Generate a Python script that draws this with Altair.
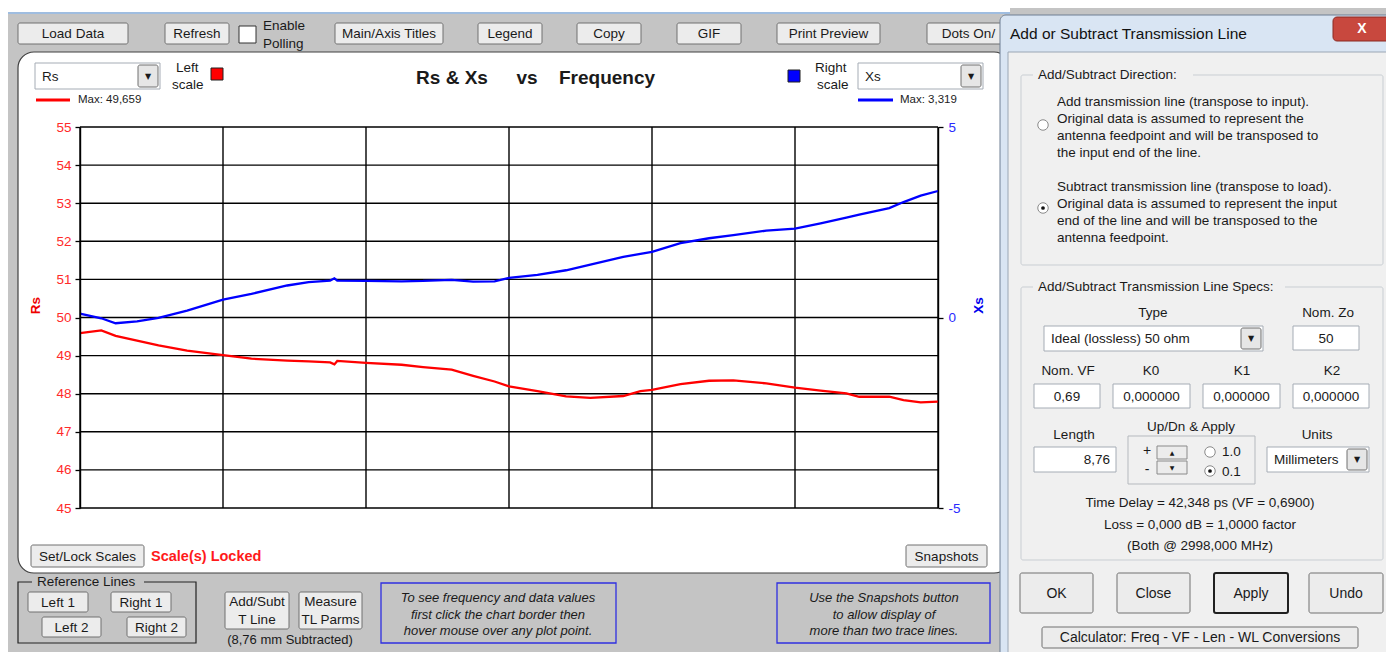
import altair as alt
import pandas as pd

# ---------------- data ----------------
freq_mhz = [1, 150, 250, 400, 550, 750, 1001, 1200, 1450, 1600, 1750, 1780, 1800,
            2001, 2250, 2400, 2600, 2750, 2900, 3001, 3200, 3400, 3570, 3800, 3920,
            4001, 4200, 4400, 4570, 4800, 5001, 5180, 5360, 5450, 5660, 5760, 5880, 6001]
rs_ohm = [49.59, 49.66, 49.52, 49.39, 49.27, 49.13, 49.01, 48.92, 48.87, 48.85, 48.82, 48.77, 48.86,
          48.81, 48.76, 48.70, 48.63, 48.47, 48.32, 48.19, 48.07, 47.93, 47.89, 47.94, 48.07,
          48.10, 48.25, 48.34, 48.35, 48.27, 48.16, 48.08, 48.01, 47.92, 47.92, 47.83, 47.77, 47.79]
xs_ohm = [0.10, -0.02, -0.15, -0.10, -0.01, 0.18, 0.47, 0.62, 0.84, 0.93, 0.97, 1.03, 0.97,
          0.96, 0.95, 0.96, 0.99, 0.94, 0.95, 1.04, 1.12, 1.24, 1.39, 1.59, 1.67,
          1.72, 1.95, 2.08, 2.16, 2.28, 2.33, 2.47, 2.62, 2.70, 2.87, 3.03, 3.20, 3.32]

freq_label_ticks = [1, 1001, 2001, 3001, 4001, 5001]
freq_grid = [1, 1001, 2001, 3001, 4001, 5001, 6001]
rs_ticks = [45, 46, 47, 48, 49, 50, 51, 52, 53, 54, 55]
xs_ticks = [-5, 0, 5]

df = pd.DataFrame({"freq": freq_mhz, "rs": rs_ohm, "xs": xs_ohm})
vgrid = pd.DataFrame({"f": freq_grid})
hgrid = pd.DataFrame({"r": rs_ticks})

# ---------------- layout constants ----------------
X0, Y0 = 80, 127          # page position of the plot origin
PW, PH = 858, 381         # plot area
UI = "Liberation Sans"
ONE = alt.Data(values=[{"k": 0}])
GREY = "#c4c4c4"

xscale = alt.Scale(domain=[1, 6001], nice=False, zero=False)
rs_scale = alt.Scale(domain=[45, 55], nice=False, zero=False)
xs_scale = alt.Scale(domain=[-5, 5], nice=False, zero=False)


def rect(x1, y1, x2, y2, fill, stroke=None, sw=1.0, r=0, fo=1.0):
    kw = dict(fill=fill, cornerRadius=r, fillOpacity=fo)
    if stroke:
        kw.update(stroke=stroke, strokeWidth=sw)
    else:
        kw.update(strokeWidth=0)
    return alt.Chart(ONE).mark_rect(**kw).encode(
        x=alt.value(x1 - X0), x2=alt.value(x2 - X0),
        y=alt.value(y1 - Y0), y2=alt.value(y2 - Y0))


def text(s, x, y, size=13, color="#1a1a1a", weight="normal", align="left",
         style="normal", font=UI):
    return alt.Chart(ONE).mark_text(
        text=s, fontSize=size, color=color, fontWeight=weight, align=align,
        baseline="middle", font=font, fontStyle=style).encode(
        x=alt.value(x - X0), y=alt.value(y - Y0))


def button(x1, y1, x2, y2, lines, size=13.5, stroke="#707070", sw=1.0):
    out = [rect(x1, y1, x2, y2, "#ececec", stroke, sw, 2)]
    cx = (x1 + x2) / 2
    n = len(lines)
    h = (y2 - y1) / n
    for i, s in enumerate(lines):
        out.append(text(s, cx, y1 + h * (i + 0.5) + 0.5, size, align="center"))
    return out


def field(x1, y1, x2, y2, s, align="center", size=13.5):
    out = [rect(x1, y1, x2, y2, "white", "#a5acb5", 1)]
    if align == "center":
        out.append(text(s, (x1 + x2) / 2, (y1 + y2) / 2 + 0.5, size, align="center"))
    elif align == "right":
        out.append(text(s, x2 - 6, (y1 + y2) / 2 + 0.5, size, align="right"))
    else:
        out.append(text(s, x1 + 4, (y1 + y2) / 2 + 0.5, size))
    return out


def combo(x1, y1, x2, y2, s, size=13.5):
    return [rect(x1, y1, x2, y2, "white", "#a5acb5", 1),
            text(s, x1 + 7, (y1 + y2) / 2 + 0.5, size),
            rect(x2 - 22, y1 + 2, x2 - 2, y2 - 2, "#e6e6e6", "#707070", 1, 2),
            text("▼", x2 - 12, (y1 + y2) / 2 + 0.5, 8, align="center", font="DejaVu Sans")]


def dot(x, y, size, fill, stroke=None):
    kw = dict(shape="circle", filled=True, color=fill, opacity=1)
    if stroke:
        kw.update(stroke=stroke, strokeWidth=1)
    return alt.Chart(ONE).mark_point(**kw).encode(
        x=alt.value(x - X0), y=alt.value(y - Y0), size=alt.value(size))


def groupbox(x1, y1, x2, y2, label, lw, bg, stroke="#c9ced3", size=13.5):
    return [rect(x1, y1, x2, y2, "white", stroke, 1, 2, fo=0.0),
            rect(x1 + 12, y1 - 8, x1 + 12 + lw, y1 + 8, bg),
            text(label, x1 + 17, y1, size)]


layers = []

# ---- application background pieces ----
layers.append(rect(0, 0, 1010, 12, "white"))
layers.append(rect(0, 12, 1010, 14, "#9fbde0"))

# ---- white chart panel ----
layers.append(rect(18, 52, 1010, 573, "white", "#404040", 1.2, 16))

# ---- grid (through the chart's scales) ----
grid_v = alt.Chart(vgrid).mark_rule(color="#000000", strokeWidth=1.4).encode(
    x=alt.X("f:Q", scale=xscale, axis=None))
grid_h = alt.Chart(hgrid).mark_rule(color="#000000", strokeWidth=1.4).encode(
    y=alt.Y("r:Q", scale=rs_scale, axis=None))

x_axis = alt.Axis(values=freq_label_ticks, title="Frequency (MHz)", grid=False,
                  labelFont=UI, labelFontSize=13, labelColor="#111", labelFlush=False,
                  labelOverlap=False, labelPadding=3, tickSize=5, tickColor="black",
                  tickWidth=1.3, domainColor="black", domainWidth=1.4,
                  titleFont=UI, titleFontSize=14,
                  titleFontWeight="bold", titleColor="#111", titleX=422, titleY=42,
                  titleBaseline="middle", titleAlign="center", zindex=1, format="d")

rs_line = alt.Chart(df).mark_line(color="#ff0000", strokeWidth=2.3).encode(
    x=alt.X("freq:Q", scale=xscale, axis=x_axis),
    y=alt.Y("rs:Q", scale=rs_scale, axis=alt.Axis(
        orient="left", values=rs_ticks, title="Rs", grid=False, labelFont=UI,
        labelFontSize=13.5, labelColor="#ff2a2a", labelPadding=4, tickSize=5,
        tickColor="black", tickWidth=1.3, domainColor="black", domainWidth=1.4,
        titleFont=UI, titleFontSize=13.5,
        titleFontWeight="bold", titleColor="#ee0000", titleX=-45, titleY=178,
        titleAngle=270, titleBaseline="middle", titleAlign="center", zindex=1,
        labelFlush=False)))

xs_line = alt.Chart(df).mark_line(color="#0000ff", strokeWidth=2.3).encode(
    x=alt.X("freq:Q", scale=xscale, axis=x_axis),
    y=alt.Y("xs:Q", scale=xs_scale, axis=alt.Axis(
        orient="right", values=xs_ticks, title="Xs", grid=False, labelFont=UI,
        labelFontSize=13.5, labelColor="#2a2aff", labelPadding=5, tickSize=5,
        tickColor="black", tickWidth=1.3, domainColor="black", domainWidth=1.4,
        titleFont=UI, titleFontSize=13.5,
        labelExpr="replace(datum.label, '\u2212', '-')",
        titleFontWeight="bold", titleColor="#0000ee", titleX=40, titleY=178,
        titleAngle=270, titleBaseline="middle", titleAlign="center", zindex=1,
        labelFlush=False)))

layers += [grid_v, grid_h, rs_line, xs_line]

# ---- chart header ----
layers += combo(35, 63, 160, 89, "Rs")
layers += [text("Left", 176, 68, 13.5), text("scale", 172, 85, 13.5),
           rect(211, 68, 223, 80, "#ff0000", "#202020", 1),
           rect(36, 98.5, 70, 101.5, "#ff0000"),
           text("Max: 49,659", 78, 100, 11.5, color="#222")]
layers += [text("Rs & Xs", 452, 78, 19, weight="bold", align="center"),
           text("vs", 527, 78, 19, weight="bold", align="center"),
           text("Frequency", 607, 78, 19, weight="bold", align="center")]
layers += [rect(788, 70, 800, 82, "#0000ff", "#202020", 1),
           text("Right", 815, 68, 13.5), text("scale", 817, 85, 13.5)]
layers += combo(858, 63, 983, 89, "Xs")
layers += [rect(858, 98.5, 893, 101.5, "#0000ff"),
           text("Max: 3,319", 900, 100, 11.5, color="#222")]

# ---- panel bottom ----
layers += button(31, 545, 144, 567, ["Set/Lock Scales"])
layers.append(text("Scale(s) Locked", 151, 557, 14.5, color="#ff1a1a", weight="bold"))
layers += button(906, 545, 987, 567, ["Snapshots"])

# ---- toolbar ----
for x1, x2, lab in [(18, 128, "Load Data"), (165, 229, "Refresh"),
                    (335, 443, "Main/Axis Titles"), (478, 542, "Legend"),
                    (577, 641, "Copy"), (677, 741, "GIF"),
                    (777, 880, "Print Preview"), (927, 1010, "Dots On/")]:
    layers += button(x1, 23, x2, 44, [lab])
layers += [rect(239, 26, 256, 43, "white", "#333", 1),
           text("Enable", 263, 26, 13.5), text("Polling", 263, 44, 13.5)]

# ---- bottom controls ----
layers += [rect(18, 582, 196, 643, "white", "#222", 1.2, 0, fo=0.0),
           rect(32, 575, 144, 589, GREY),
           text("Reference Lines", 37, 582, 13.5)]
layers += button(28, 592, 88, 612, ["Left 1"])
layers += button(111, 592, 171, 612, ["Right 1"])
layers += button(42, 617, 101, 637, ["Left 2"])
layers += button(127, 617, 186, 637, ["Right 2"])
layers += button(225, 592, 289, 629, ["Add/Subt", "T Line"])
layers += button(299, 592, 362, 629, ["Measure", "TL Parms"])
layers.append(text("(8,76 mm Subtracted)", 290, 640, 13, align="center"))
layers.append(rect(381, 583, 616, 643, "white", "#2f2fe0", 1.3, 0, fo=0.0))
for i, s in enumerate(["To see frequency and data values", "first click the chart border then",
                       "hover mouse over any plot point."]):
    layers.append(text(s, 498, 598 + i * 16.5, 13, style="italic", align="center"))
layers.append(rect(777, 583, 990, 643, "white", "#2f2fe0", 1.3, 0, fo=0.0))
for i, s in enumerate(["Use the Snapshots button", "to allow display of",
                       "more than two trace lines."]):
    layers.append(text(s, 884, 598 + i * 16.5, 13, style="italic", align="center"))

# ---- dialog ----
DLG = "#f0f0f0"
layers.append(rect(1000, 15, 1410, 700, "#d9e5f3", "#6f7f93", 1, 6))
layers.append(text("Add or Subtract Transmission Line", 1010, 34, 15.5, color="#111"))
layers.append(rect(1333, 17, 1392, 41, "#c8483e", "#8a2a22", 1, 4))
layers.append(text("X", 1362, 29, 14, color="white", weight="bold", align="center"))
layers.append(rect(1008, 52, 1388, 660, DLG, "#9aa6b4", 1))

layers += groupbox(1021, 75, 1383, 265, "Add/Subtract Direction:", 160, DLG)
for i, s in enumerate(["Add transmission line (transpose to input).",
                       "Original data is assumed to represent the",
                       "antenna feedpoint and will be transposed to",
                       "the input end of the line."]):
    layers.append(text(s, 1057, 102 + i * 17, 13.5))
for i, s in enumerate(["Subtract transmission line (transpose to load).",
                       "Original data is assumed to represent the input",
                       "end of the line and will be transposed to the",
                       "antenna feedpoint."]):
    layers.append(text(s, 1057, 187 + i * 17, 13.5))
layers += [dot(1043, 125, 110, "white", "#8a8a8a"), dot(1043, 208, 110, "white", "#8a8a8a"),
           dot(1043, 208, 14, "#111")]

layers += groupbox(1021, 287, 1383, 560, "Add/Subtract Transmission Line Specs:", 252, DLG)
layers += [text("Type", 1153, 313, 13.5, align="center"),
           text("Nom. Zo", 1328, 313, 13.5, align="center")]
layers += combo(1044, 326, 1263, 351, "Ideal (lossless) 50 ohm")
layers += field(1293, 326, 1359, 350, "50")
layers += [text("Nom. VF", 1068, 371, 13.5, align="center"),
           text("K0", 1151, 371, 13.5, align="center"),
           text("K1", 1242, 371, 13.5, align="center"),
           text("K2", 1332, 371, 13.5, align="center")]
layers += field(1034, 384, 1100, 408, "0,69")
layers += field(1113, 384, 1190, 408, "0,000000")
layers += field(1203, 384, 1280, 408, "0,000000")
layers += field(1293, 384, 1369, 408, "0,000000")
layers += [text("Length", 1074, 435, 13.5, align="center"),
           text("Up/Dn & Apply", 1191, 427, 13.5, align="center"),
           text("Units", 1317, 435, 13.5, align="center")]
layers += field(1034, 447, 1116, 472, "8,76", align="right")
layers += [rect(1128, 436, 1255, 484, "white", "#b5b9be", 1, 0, fo=0.0),
           text("+", 1147, 451, 14, align="center"), text("-", 1147, 470, 14, align="center"),
           rect(1157, 446, 1187, 459, "#ececec", "#8a8a8a", 1),
           rect(1157, 461, 1187, 474, "#ececec", "#8a8a8a", 1),
           text("▲", 1172, 452.5, 6, align="center", font="DejaVu Sans"),
           text("▼", 1172, 467.5, 6, align="center", font="DejaVu Sans"),
           dot(1210, 452, 110, "white", "#8a8a8a"), dot(1210, 471, 110, "white", "#8a8a8a"),
           dot(1210, 471, 14, "#111"),
           text("1.0", 1222, 452, 13.5), text("0.1", 1222, 472, 13.5)]
layers += combo(1267, 447, 1369, 472, "Millimeters")
layers += [text("Time Delay = 42,348 ps  (VF = 0,6900)", 1200, 503, 13.5, align="center"),
           text("Loss = 0,000 dB = 1,0000 factor", 1200, 525, 13.5, align="center"),
           text("(Both @ 2998,000 MHz)", 1200, 546, 13.5, align="center")]
layers += button(1020, 573, 1093, 613, ["OK"], 14)
layers += button(1117, 573, 1190, 613, ["Close"], 14)
layers += button(1214, 573, 1288, 613, ["Apply"], 14, stroke="#202020", sw=2)
layers += button(1309, 573, 1383, 613, ["Undo"], 14)
layers += button(1042, 627, 1358, 648, ["Calculator:  Freq - VF - Len - WL Conversions"], 14)

chart = alt.layer(*layers).resolve_scale(y="independent").properties(
    width=PW, height=PH,
    autosize=alt.AutoSizeParams(type="none"),
    padding={"left": X0 - 8, "top": Y0 - 8, "right": 1378 - (X0 - 8) - PW,
             "bottom": 644 - (Y0 - 8) - PH},
    background=GREY,
).configure_view(strokeWidth=0, fill=None)

chart.save("out.html", embed_options={"renderer": "svg", "actions": False})
